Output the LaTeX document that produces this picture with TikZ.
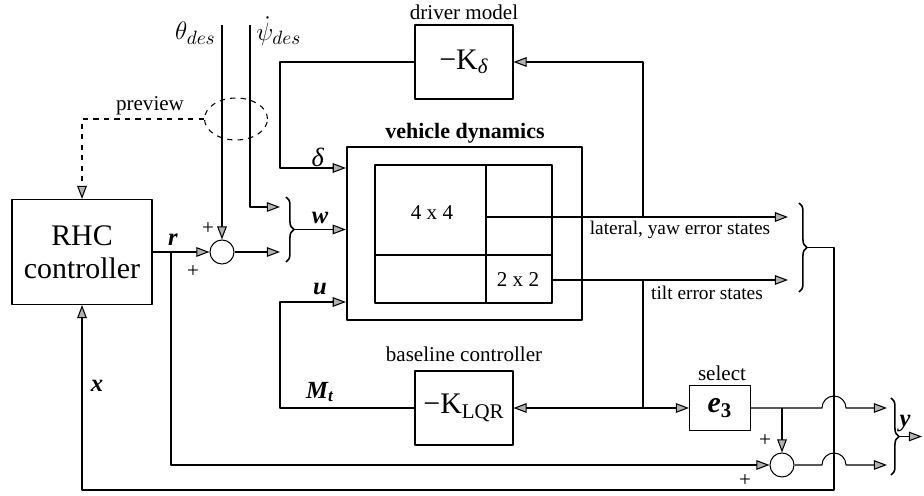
\documentclass[tikz,border=0pt]{standalone}
\usepackage{fontspec}
\setmainfont{Liberation Serif}
\usetikzlibrary{arrows.meta,shapes.geometric,decorations.pathreplacing}
\tikzset{
  block/.style={draw,inner sep=0pt},
  sumnode/.style={draw,circle,minimum size=0.48cm,inner sep=0pt},
  arr/.style={-{Triangle[length=7.5pt,width=5.5pt,fill=gray!60]}},
  lbl/.style={font=\fontsize{12}{14}\selectfont},
  sml/.style={font=\fontsize{11}{13}\selectfont},
  mth/.style={font=\fontsize{15}{17}\selectfont},
  sym/.style={font=\fontsize{14}{16}\selectfont\bfseries\itshape},
  brc/.style={decorate,decoration={brace,amplitude=4.5pt},line width=0.9pt},
}
\begin{document}
\begin{tikzpicture}[x=0.02cm,y=-0.02cm,line width=0.6pt,line join=round]
\useasboundingbox (0,0) rectangle (924,496);

% blocks
\node[block,minimum width=2.8cm,minimum height=2.1cm,align=center,
  font=\fontsize{17}{19}\selectfont] (rhc) at (82,252) {RHC\\controller};
\node[block,minimum width=1.96cm,minimum height=1.48cm,
  font=\fontsize{17}{19}\selectfont] (drv) at (464,62) {−K\textsubscript{\textit{δ}}};
\node[block,minimum width=1.96cm,minimum height=1.48cm,
  font=\fontsize{17}{19}\selectfont] (lqr) at (464,408) {−K\textsubscript{LQR}};
\node[block,minimum width=1.22cm,minimum height=0.9cm,
  font=\fontsize{17}{19}\selectfont] (sel) at (720,408) {\textbf{\textit{e}}\textsubscript{\textbf{3}}};
\node[draw,line width=1.3pt,minimum width=4.7cm,minimum height=3.46cm] (veh) at (464.5,233.5) {};

% partitioned matrix inside the vehicle block
\draw (375,165) rectangle (552,303);
\draw (486,165) -- (486,303);
\draw (375,255) -- (552,255);

% summing junctions and preview window
\node[sumnode] (s1) at (222,252) {};
\node[sumnode] (s2) at (782,465) {};
\node[draw,dashed,ellipse,minimum width=1.26cm,minimum height=0.84cm] (prev) at (236,119) {};

% points on the connectors
\coordinate (th) at (222,25);
\coordinate (ps) at (250,25);
\coordinate (wa) at (280,207);
\coordinate (wb) at (280,252);
\coordinate (wt) at (294,229.5);
\coordinate (dk) at (280,168);
\coordinate (uk) at (280,302);
\coordinate (rb) at (171,252);
\coordinate (la) at (486,217);
\coordinate (lo) at (788,217);
\coordinate (fb) at (643,217);
\coordinate (ti) at (552,280);
\coordinate (tio) at (788,280);
\coordinate (tb) at (643,280);
\coordinate (tj) at (643,408);
\coordinate (eb) at (782,408);
\coordinate (ya) at (887,408);
\coordinate (yb) at (887,465);
\coordinate (ot) at (807,247.5);
\coordinate (xk) at (834,490);
\coordinate (yt) at (899,436.5);
\coordinate (yo) at (922,436.5);

% connectors
\draw[arr] (th) -- (s1.north);
\draw[arr] (ps) |- (wa);
\draw[arr] (s1.east) -- (wb);
\draw[arr] (rhc.east) -- (s1.west);
\draw[arr] (rb) |- (s2.west);
\draw[arr] (wt) -- (wt -| veh.west);
\draw[arr] (drv.west) -| (dk) -- (dk -| veh.west);
\draw[arr] (lqr.west) -| (uk) -- (uk -| veh.west);
\draw[arr] (la) -- (lo);
\draw[arr] (fb) |- (drv.east);
\draw[arr] (ti) -- (tio);
\draw (tb) -- (tj);
\draw[arr] (tj) -- (lqr.east);
\draw[arr] (tj) -- (sel.west);
\draw[arr] (sel.east) -- (822,408) arc[start angle=180,end angle=0,radius=0.24cm] -- (ya);
\draw[arr] (eb) -- (s2.north);
\draw[arr] (s2.east) -- (822,465) arc[start angle=180,end angle=0,radius=0.24cm] -- (yb);
\draw[arr] (ot) -| (xk) -| (rhc.south);
\draw[arr] (yt) -- (yo);
\draw[arr,dashed] (prev.west) -| (rhc.north);

% braces
\draw[brc] (286,197) -- (286,262);
\draw[brc] (799,203) -- (799,292);
\draw[brc] (891,398) -- (891,475);

% labels
\node[mth,anchor=east] at (222,33) {$\theta_{des}$};
\node[mth,anchor=west,inner sep=1pt] at (254,31) {$\dot{\psi}_{des}$};
\node[lbl] at (150,106) {preview};
\node[lbl] at (464,12) {driver model};
\node[font=\fontsize{12.5}{14}\selectfont\bfseries] at (465,133) {vehicle dynamics};
\node[mth] at (318,157) {\textit{δ}};
\node[sym] at (320,218) {w};
\node[sym] at (320,289) {u};
\node[sym] at (320,392) {M\textsubscript{t}};
\node[sym] at (173,240) {r};
\node[sym] at (97,386) {x};
\node[sym] at (905,424) {y};
\node[lbl] at (432,213) {4 x 4};
\node[lbl] at (518,280) {2 x 2};
\node[sml] at (680,230) {lateral, yaw error states};
\node[sml] at (707,293) {tilt error states};
\node[lbl] at (464,354) {baseline controller};
\node[lbl] at (722,373) {select};
\node[lbl] at (208,229) {+};
\node[lbl] at (193,272) {+};
\node[lbl] at (765,441) {+};
\node[lbl] at (745,481) {+};

\end{tikzpicture}
\end{document}
